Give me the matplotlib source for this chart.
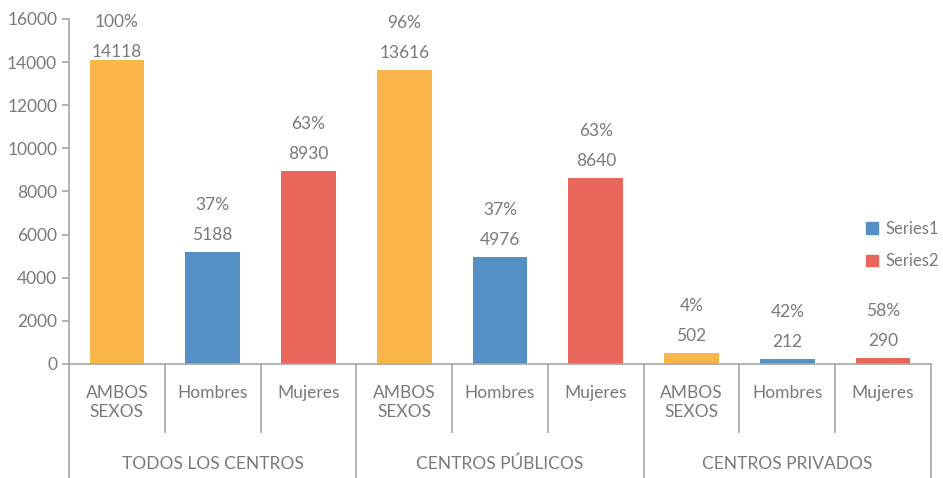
import matplotlib
matplotlib.use("Agg")
import matplotlib.pyplot as plt
from matplotlib.patches import Patch
import numpy as np

groups = ["TODOS LOS CENTROS", "CENTROS PÚBLICOS", "CENTROS PRIVADOS"]
subcats = ["AMBOS\nSEXOS", "Hombres", "Mujeres"]
values = [14118, 5188, 8930, 13616, 4976, 8640, 502, 212, 290]
percents = ["100%", "37%", "63%", "96%", "37%", "63%", "4%", "42%", "58%"]
legend_labels = ["Series1", "Series2"]

plt.rcParams['font.family'] = ['Lato', 'DejaVu Sans']
gray = "#7a7a7a"
axis_gray = "#a6a6a6"
colors_cycle = ["#FBB64A", "#5590C4", "#E8675A"]

W, H = 943, 478
fig = plt.figure(figsize=(W / 100, H / 100), dpi=100)
ax = fig.add_axes([69 / W, (478 - 364) / H, (931 - 69) / W, (364 - 19) / H])

n = len(values)
x = np.arange(n)
bar_colors = [colors_cycle[i % 3] for i in range(n)]
bars = ax.bar(x, values, width=0.57, color=bar_colors)

ax.set_xlim(-0.5, n - 0.5)
ax.set_ylim(0, 16000)
ax.set_yticks(np.arange(0, 16001, 2000))
ax.tick_params(axis='y', colors=axis_gray, labelcolor=gray, labelsize=12.5,
               length=5, width=1.2, direction='out')
ax.tick_params(axis='x', length=0, labelbottom=False)
for s in ["top", "right"]:
    ax.spines[s].set_visible(False)
ax.spines["left"].set_color(axis_gray)
ax.spines["bottom"].set_color(axis_gray)
ax.spines["left"].set_linewidth(1.2)
ax.spines["bottom"].set_linewidth(1.2)

# data labels (positioned in pixels above each bar top, clamped near the top)
for xi, v, p in zip(x, values, percents):
    top_disp = ax.transData.transform((xi, v))[1]
    val_y = min(top_disp + 17, H - 52)
    pct_y = val_y + 30
    ax.annotate(str(v), (xi, val_y), xycoords=('data', 'figure pixels'),
                ha="center", va="center", fontsize=12.5, color=gray, annotation_clip=False)
    ax.annotate(p, (xi, pct_y), xycoords=('data', 'figure pixels'),
                ha="center", va="center", fontsize=12.5, color=gray, annotation_clip=False)

# multi-level category axis
tr = ax.get_xaxis_transform()
ax_h_px = 364 - 19
def ypx(px):
    return -px / ax_h_px

for i in range(n + 1):
    xe = i - 0.5
    if i % 3 == 0:
        bottom = ypx(478 - 364 + 2)
    else:
        bottom = ypx(433 - 364)
    ax.plot([xe, xe], [0, bottom], transform=tr, color=axis_gray, lw=1.2,
            clip_on=False, solid_capstyle="butt")

for i in range(n):
    ax.text(i, ypx(385 - 364), subcats[i % 3], transform=tr, ha="center", va="top",
            fontsize=12.5, color=gray, linespacing=1.25)

for g, name in enumerate(groups):
    ax.text(g * 3 + 1, ypx(464 - 364), name, transform=tr, ha="center", va="center",
            fontsize=12.5, color=gray)

handles = [Patch(color=colors_cycle[1]), Patch(color=colors_cycle[2])]
ax.legend(handles, legend_labels, loc="center left", bbox_to_anchor=(866 / W, (478 - 245) / H),
          bbox_transform=fig.transFigure, frameon=False, fontsize=12, labelcolor=gray,
          handlelength=0.7, handleheight=0.7, handletextpad=0.45, labelspacing=1.0,
          borderpad=0, borderaxespad=0)

fig.savefig("out.png", dpi=100)
